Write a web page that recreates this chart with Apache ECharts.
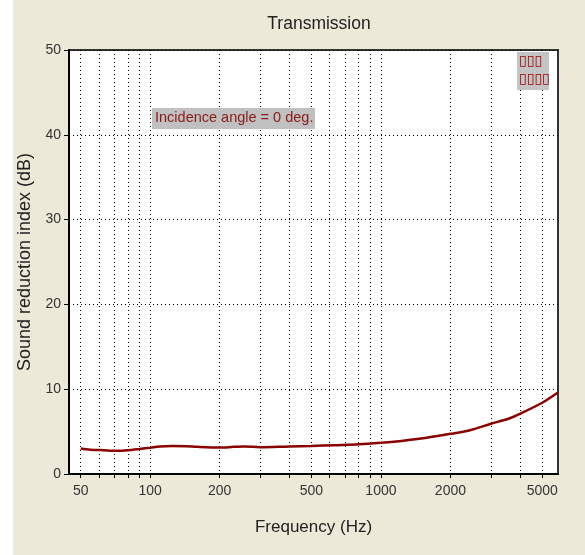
<!DOCTYPE html>
<html>
<head>
<meta charset="utf-8">
<script src="https://cdn.jsdelivr.net/npm/echarts@6/dist/echarts.min.js"></script>
<style>
html,body{margin:0;padding:0;background:#fff;}
#wrap{position:absolute;left:13px;top:0;width:572px;height:555px;background:#ECE9D8;}
#chart{position:absolute;left:0;top:0;width:585px;height:555px;}
</style>
</head>
<body>
<div id="wrap"></div>
<div id="chart"></div>
<script>
const freqs = [50, 55, 63, 72, 80, 90, 100, 110, 125, 143, 160, 200, 230, 256, 300, 400, 500, 630, 800, 1000, 1200, 1465, 2000, 2410, 3000, 3590, 4000, 5000, 5850];
const srIndex = [3.0, 2.87, 2.8, 2.74, 2.8, 2.95, 3.1, 3.25, 3.3, 3.28, 3.2, 3.12, 3.2, 3.25, 3.15, 3.25, 3.3, 3.4, 3.5, 3.68, 3.87, 4.15, 4.74, 5.14, 5.93, 6.55, 7.1, 8.4, 9.6];
const xTickValues = [50, 60, 70, 80, 90, 100, 200, 300, 400, 500, 600, 700, 800, 900, 1000, 2000, 3000, 4000, 5000];
const xLabelValues = [50, 100, 200, 500, 1000, 2000, 5000];
const titleText = 'Transmission';
const xName = 'Frequency (Hz)';
const yName = 'Sound reduction index (dB)';
const noteText = 'Incidence angle = 0 deg.';
const legendText = '\u25AF\u25AF\u25AF\n\u25AF\u25AF\u25AF\u25AF';

const chart = echarts.init(document.getElementById('chart'), null, {renderer: 'canvas'});
const font = 'Liberation Sans, Arial, sans-serif';
const gridLine = {show: true, lineStyle: {color: '#000', width: 1, type: [1, 3]}};
chart.setOption({
  backgroundColor: 'transparent',
  animation: false,
  title: {
    text: titleText, left: 314, top: 10, textAlign: 'center',
    textStyle: {fontFamily: font, fontSize: 17.5, fontWeight: 'normal', color: '#222'}
  },
  grid: {left: 69, top: 50, right: 27, bottom: 81, show: true, backgroundColor: '#fff', borderColor: '#333', borderWidth: 2},
  xAxis: {
    type: 'log', min: 44.5, max: 5850,
    name: xName, nameLocation: 'middle', nameGap: 45,
    nameTextStyle: {fontFamily: font, fontSize: 17, color: '#222'},
    axisLine: {show: true, onZero: false, lineStyle: {color: '#000', width: 2}},
    axisTick: {show: true, length: 4, customValues: xTickValues, lineStyle: {color: '#000'}},
    axisLabel: {customValues: xLabelValues, margin: 10, fontFamily: font, fontSize: 14, color: '#333',
      formatter: v => String(Math.round(v))},
    splitLine: gridLine,
    minorTick: {show: false}, minorSplitLine: {show: false}
  },
  yAxis: {
    type: 'value', min: 0, max: 50, interval: 10,
    name: yName, nameLocation: 'middle', nameGap: 34,
    nameTextStyle: {fontFamily: font, fontSize: 18, color: '#222'},
    axisLine: {show: true, lineStyle: {color: '#000', width: 2}},
    axisTick: {show: true, length: 5, lineStyle: {color: '#000'}},
    axisLabel: {margin: 8, fontFamily: font, fontSize: 14, color: '#333'},
    splitLine: gridLine
  },
  series: [{
    type: 'line',
    data: freqs.map((f, i) => [f, srIndex[i]]),
    smooth: 0.3,
    showSymbol: false,
    lineStyle: {color: '#8B0000', width: 2.5},
    clip: true
  }],
  graphic: [
    {
      type: 'rect', left: 152, top: 108, shape: {width: 163, height: 21}, z: 10,
      style: {fill: '#C0C0C0'}
    },
    {
      type: 'text', left: 155, top: 110, z: 11,
      style: {text: noteText, fill: '#8B1A1A', font: '14.5px ' + font}
    },
    {
      type: 'rect', left: 517, top: 52, shape: {width: 32, height: 38}, z: 10,
      style: {fill: '#C4C4C4'}
    },
    {
      type: 'text', left: 519, top: 52, z: 11,
      style: {text: legendText, fill: '#A00000', font: 'bold 14px DejaVu Sans', lineHeight: 18}
    }
  ]
});
</script>
</body>
</html>
